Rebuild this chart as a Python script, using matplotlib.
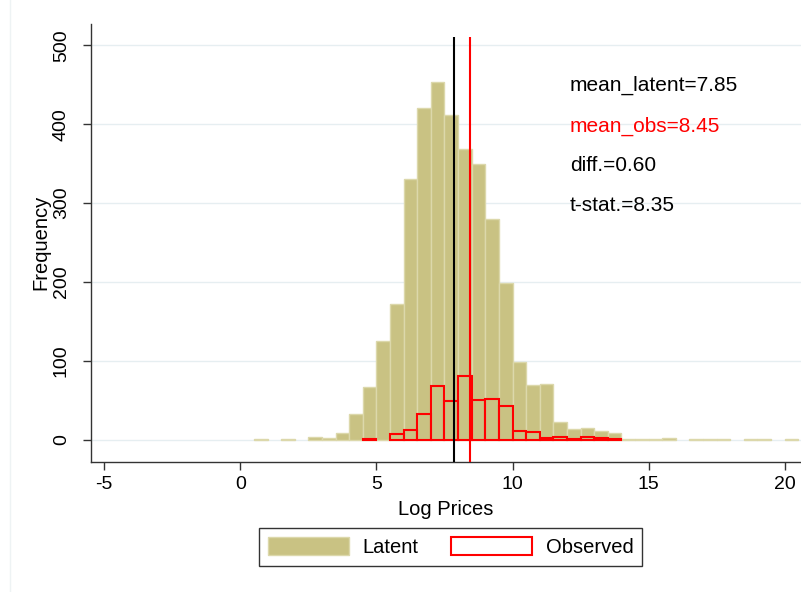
import numpy as np
import matplotlib
matplotlib.use("Agg")
import matplotlib.pyplot as plt
from matplotlib.patches import Patch
from matplotlib.lines import Line2D

plt.rcParams['font.family'] = ['Liberation Sans', 'DejaVu Sans']
plt.rcParams['axes.unicode_minus'] = False

# histogram bins (width 0.5), lower edges and counts
BIN_WIDTH = 0.5
latent_start = 0.5
latent_counts = [1, 0, 1, 0, 4, 2, 9, 32, 67, 125, 172, 330, 420, 454, 411, 368,
                 350, 280, 198, 98, 69, 71, 23, 13, 15, 11, 9, 1, 1, 1, 2, 0,
                 1, 1, 1, 0, 1, 1, 0, 1]
obs_start = 4.5
obs_counts = [1, 0, 7, 12, 32, 68, 49, 81, 50, 52, 43, 11, 10, 2, 4, 1, 3, 2, 1]

mean_latent = 7.85
mean_obs = 8.45
diff = 0.60
tstat = 8.35

x_ticks = [-5, 0, 5, 10, 15, 20]
y_ticks = [0, 100, 200, 300, 400, 500]

KHAKI = '#c9c283'
KHAKI_EDGE = '#dcd8ab'
GRID = '#e6eef1'

fig = plt.figure(figsize=(8.01, 5.92), dpi=100)
ax = fig.add_axes([0.1132, 0.22, 0.8868, 0.7395])

for y in y_ticks:
    ax.axhline(y, color=GRID, lw=1.0, zorder=0)

lat_edges = latent_start + BIN_WIDTH * np.arange(len(latent_counts))
lat = np.array(latent_counts)
keep = lat > 0
ax.bar(lat_edges[keep], lat[keep], width=BIN_WIDTH, align='edge',
       color=KHAKI, edgecolor=KHAKI_EDGE, linewidth=1.0, zorder=2)

obs_edges = obs_start + BIN_WIDTH * np.arange(len(obs_counts))
obs = np.array(obs_counts)
keep = obs > 0
ax.bar(obs_edges[keep], obs[keep], width=BIN_WIDTH, align='edge',
       facecolor='none', edgecolor='red', linewidth=1.5, zorder=3)

ax.vlines(mean_latent, -28, 510, color='black', lw=1.5, zorder=4)
ax.vlines(mean_obs, -28, 510, color='red', lw=1.5, zorder=4)

tx = 12.1
fs = 15
ax.text(tx, 449, f"mean_latent={mean_latent:.2f}", fontsize=fs, va='center')
ax.text(tx, 397, f"mean_obs={mean_obs:.2f}", fontsize=fs, va='center', color='red')
ax.text(tx, 347, f"diff.={diff:.2f}", fontsize=fs, va='center')
ax.text(tx, 297, f"t-stat.={tstat:.2f}", fontsize=fs, va='center')

ax.set_xlim(-5.5, 20.6)
ax.set_ylim(-28, 527)
ax.set_xticks(x_ticks)
ax.set_yticks(y_ticks)
ax.set_yticklabels([str(v) for v in y_ticks], rotation=90, va='center')
ax.tick_params(axis='both', labelsize=14, length=6, width=1, color='#333333')
ax.tick_params(axis='y', pad=9)
ax.tick_params(axis='x', pad=4)

for s in ['top', 'right']:
    ax.spines[s].set_visible(False)
for s in ['left', 'bottom']:
    ax.spines[s].set_color('#333333')
    ax.spines[s].set_linewidth(1.0)

ax.set_xlabel("Log Prices", fontsize=14.5, labelpad=5)
ax.set_ylabel("Frequency", fontsize=14.5, labelpad=2)

handles = [Patch(facecolor=KHAKI, edgecolor=KHAKI_EDGE, lw=1.0),
           Patch(facecolor='none', edgecolor='red', lw=1.5)]
leg = fig.legend(handles, ["Latent", "Observed"], loc='center',
                 bbox_to_anchor=(0.5627, 0.076), ncol=2, fontsize=14.5,
                 frameon=True, fancybox=False, handlelength=4.0,
                 handleheight=1.0, handletextpad=0.7, columnspacing=1.6,
                 borderpad=0.45)
leg.get_frame().set_edgecolor('black')
leg.get_frame().set_linewidth(1.0)

# faint outer border of the graph region
fig.add_artist(Line2D([10 / 801, 10 / 801], [0, 1], transform=fig.transFigure,
                      color='#eef3f4', lw=1.0))

fig.savefig("out.png", dpi=100)
